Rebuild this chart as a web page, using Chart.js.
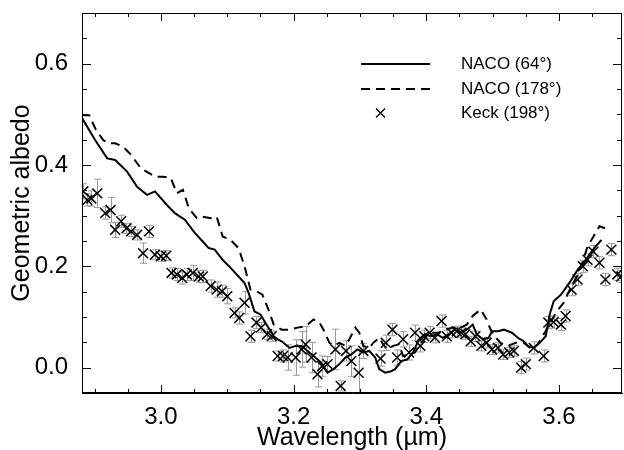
<!DOCTYPE html>
<html lang="en">
<head>
  <meta charset="UTF-8">
  <title>Geometric albedo spectrum</title>
  <script src="https://cdn.jsdelivr.net/npm/chart.js"></script>
  <style>
    body {
      margin: 0;
      padding: 0;
      background: #ffffff;
    }
    #wrap {
      width: 624px;
      height: 450px;
    }
  </style>
</head>
<body>
  <div id="wrap">
    <canvas id="albedoChart" width="624" height="450"></canvas>
  </div>

  <script>
    // NACO (64 deg) - solid line
    const naco64Wl = [2.880, 2.901, 2.919, 2.931, 2.949, 2.964, 2.979, 2.991, 3.009, 3.021, 3.036, 3.051, 3.063, 3.072, 3.081, 3.093, 3.105, 3.117, 3.126, 3.132, 3.141, 3.150, 3.159, 3.170, 3.176, 3.182, 3.194, 3.203, 3.212, 3.221, 3.230, 3.239, 3.245, 3.251, 3.260, 3.269, 3.278, 3.287, 3.296, 3.305, 3.314, 3.323, 3.329, 3.338, 3.347, 3.353, 3.362, 3.371, 3.380, 3.389, 3.398, 3.407, 3.416, 3.425, 3.434, 3.443, 3.452, 3.461, 3.470, 3.476, 3.485, 3.494, 3.499, 3.508, 3.517, 3.529, 3.538, 3.547, 3.553, 3.562, 3.571, 3.580, 3.586, 3.592, 3.603, 3.610, 3.619, 3.628, 3.637, 3.646, 3.655, 3.664];
    const naco64Alb = [0.495, 0.449, 0.413, 0.410, 0.387, 0.357, 0.341, 0.348, 0.321, 0.305, 0.292, 0.266, 0.249, 0.236, 0.233, 0.213, 0.197, 0.180, 0.167, 0.148, 0.111, 0.105, 0.085, 0.062, 0.056, 0.052, 0.039, 0.043, 0.043, 0.033, 0.023, 0.013, 0.003, -0.010, -0.003, 0.007, 0.020, 0.026, 0.036, 0.030, 0.033, 0.020, -0.003, -0.010, -0.007, -0.003, 0.013, 0.016, 0.030, 0.056, 0.066, 0.062, 0.066, 0.059, 0.066, 0.075, 0.069, 0.075, 0.085, 0.066, 0.056, 0.059, 0.072, 0.072, 0.075, 0.069, 0.059, 0.052, 0.043, 0.039, 0.049, 0.062, 0.105, 0.131, 0.144, 0.157, 0.174, 0.193, 0.207, 0.223, 0.239, 0.252];

    // NACO (178 deg) - dashed line
    const naco178Wl = [2.880, 2.892, 2.901, 2.913, 2.922, 2.931, 2.943, 2.955, 2.970, 2.982, 2.991, 3.003, 3.015, 3.024, 3.033, 3.042, 3.054, 3.063, 3.075, 3.084, 3.093, 3.105, 3.117, 3.126, 3.135, 3.144, 3.153, 3.162, 3.170, 3.182, 3.194, 3.206, 3.218, 3.230, 3.239, 3.245, 3.254, 3.260, 3.269, 3.278, 3.284, 3.293, 3.299, 3.305, 3.314, 3.320, 3.329, 3.335, 3.341, 3.350, 3.359, 3.365, 3.374, 3.383, 3.392, 3.401, 3.410, 3.419, 3.428, 3.440, 3.452, 3.461, 3.470, 3.482, 3.491, 3.497, 3.505, 3.514, 3.523, 3.535, 3.547, 3.559, 3.568, 3.577, 3.586, 3.595, 3.607, 3.619, 3.631, 3.643, 3.652, 3.661, 3.670];
    const naco178Alb = [0.498, 0.498, 0.472, 0.449, 0.443, 0.443, 0.436, 0.420, 0.393, 0.384, 0.377, 0.377, 0.374, 0.344, 0.351, 0.315, 0.295, 0.298, 0.295, 0.298, 0.259, 0.252, 0.236, 0.200, 0.154, 0.151, 0.144, 0.115, 0.085, 0.075, 0.075, 0.079, 0.082, 0.095, 0.089, 0.075, 0.049, 0.043, 0.049, 0.043, 0.056, 0.079, 0.069, 0.043, 0.039, 0.049, 0.059, 0.046, 0.036, 0.043, 0.046, 0.023, 0.026, 0.030, 0.049, 0.062, 0.069, 0.069, 0.075, 0.079, 0.079, 0.085, 0.102, 0.115, 0.095, 0.075, 0.059, 0.046, 0.043, 0.049, 0.049, 0.036, 0.046, 0.066, 0.085, 0.108, 0.128, 0.161, 0.190, 0.239, 0.259, 0.279, 0.275];

    // Keck (198 deg) - crosses with error bars
    const keckWl = [2.883, 2.889, 2.895, 2.904, 2.916, 2.924, 2.931, 2.940, 2.948, 2.955, 2.964, 2.973, 2.982, 2.991, 3.000, 3.008, 3.016, 3.024, 3.032, 3.039, 3.048, 3.057, 3.063, 3.075, 3.084, 3.092, 3.100, 3.111, 3.118, 3.126, 3.135, 3.144, 3.151, 3.160, 3.167, 3.176, 3.184, 3.191, 3.203, 3.212, 3.218, 3.227, 3.236, 3.243, 3.251, 3.263, 3.271, 3.279, 3.287, 3.298, 3.305, 3.331, 3.339, 3.349, 3.356, 3.365, 3.374, 3.383, 3.391, 3.397, 3.405, 3.413, 3.423, 3.431, 3.438, 3.446, 3.453, 3.459, 3.467, 3.474, 3.483, 3.491, 3.499, 3.508, 3.516, 3.525, 3.532, 3.543, 3.550, 3.562, 3.577, 3.584, 3.592, 3.603, 3.610, 3.619, 3.628, 3.636, 3.643, 3.652, 3.661, 3.670, 3.679, 3.688, 3.694];
    const keckAlb = [0.348, 0.331, 0.334, 0.344, 0.305, 0.311, 0.272, 0.289, 0.275, 0.269, 0.262, 0.226, 0.269, 0.223, 0.220, 0.221, 0.187, 0.184, 0.177, 0.184, 0.187, 0.180, 0.180, 0.161, 0.154, 0.151, 0.141, 0.108, 0.098, 0.128, 0.062, 0.089, 0.079, 0.066, 0.062, 0.023, 0.023, 0.020, 0.020, 0.036, 0.046, 0.020, -0.013, 0.003, 0.007, 0.036, -0.036, 0.033, 0.013, -0.010, 0.033, 0.018, 0.049, 0.075, 0.020, 0.056, 0.030, 0.069, 0.043, 0.062, 0.069, 0.059, 0.092, 0.062, 0.069, 0.072, 0.069, 0.066, 0.052, 0.062, 0.043, 0.049, 0.036, 0.039, 0.026, 0.030, 0.033, 0.000, 0.007, 0.039, 0.023, 0.089, 0.090, 0.085, 0.102, 0.154, 0.174, 0.200, 0.213, 0.229, 0.207, 0.174, 0.233, 0.184, 0.180];
    const keckErr = [0.015, 0.012, 0.015, 0.028, 0.012, 0.025, 0.015, 0.012, 0.010, 0.010, 0.010, 0.020, 0.012, 0.010, 0.010, 0.010, 0.010, 0.012, 0.012, 0.012, 0.015, 0.012, 0.012, 0.012, 0.015, 0.012, 0.015, 0.010, 0.012, 0.022, 0.012, 0.012, 0.010, 0.010, 0.010, 0.010, 0.012, 0.025, 0.035, 0.035, 0.035, 0.030, 0.025, 0.020, 0.015, 0.040, 0.010, 0.020, 0.030, 0.045, 0.015, 0.015, 0.015, 0.012, 0.015, 0.015, 0.015, 0.015, 0.012, 0.012, 0.012, 0.010, 0.012, 0.012, 0.010, 0.010, 0.010, 0.010, 0.010, 0.010, 0.010, 0.010, 0.010, 0.010, 0.010, 0.010, 0.010, 0.012, 0.012, 0.012, 0.012, 0.012, 0.012, 0.012, 0.012, 0.012, 0.012, 0.012, 0.012, 0.012, 0.012, 0.012, 0.012, 0.012, 0.012];

    const xTicks = [3.0, 3.2, 3.4, 3.6];
    const yTicks = [0.0, 0.2, 0.4, 0.6];
    const xMinorStep = 0.05;
    const yMinorStep = 0.05;

    const seriesLabels = ['NACO (64°)', 'NACO (178°)', 'Keck (198°)'];

    const FONT = "'Liberation Sans', Arial, Helvetica, sans-serif";

    function toPoints(xs, ys) {
      return xs.map((x, i) => ({ x: x, y: ys[i] }));
    }

    // gray error bars behind the crosses
    const errorBars = {
      id: 'errorBars',
      beforeDatasetsDraw(chart) {
        const { ctx, chartArea, scales } = chart;
        ctx.save();
        ctx.beginPath();
        ctx.rect(chartArea.left, chartArea.top, chartArea.width, chartArea.height);
        ctx.clip();
        ctx.strokeStyle = '#999999';
        ctx.lineWidth = 1;
        keckWl.forEach((w, i) => {
          const px = Math.round(scales.x.getPixelForValue(w)) + 0.5;
          const y0 = scales.y.getPixelForValue(keckAlb[i] - keckErr[i]);
          const y1 = scales.y.getPixelForValue(keckAlb[i] + keckErr[i]);
          ctx.beginPath();
          ctx.moveTo(px, y0); ctx.lineTo(px, y1);
          ctx.moveTo(px - 3.5, y0); ctx.lineTo(px + 3.5, y0);
          ctx.moveTo(px - 3.5, y1); ctx.lineTo(px + 3.5, y1);
          ctx.stroke();
        });
        ctx.restore();
      }
    };

    // box frame with inward ticks on all four sides, plus the legend
    const frame = {
      id: 'frame',
      afterDraw(chart) {
        const { ctx, chartArea: a, scales } = chart;
        const xs = scales.x, ys = scales.y;
        ctx.save();
        ctx.strokeStyle = '#000';
        ctx.lineWidth = 1;
        ctx.strokeRect(a.left + 0.5, a.top + 0.5, a.width - 1, a.height - 1);

        ctx.beginPath();
        for (let v = 2.9; v < xs.max; v += xMinorStep) {
          const major = xTicks.some(t => Math.abs(t - v) < 1e-6);
          const px = Math.round(xs.getPixelForValue(v)) + 0.5;
          const len = major ? 8 : 4;
          ctx.moveTo(px, a.bottom); ctx.lineTo(px, a.bottom - len);
          ctx.moveTo(px, a.top); ctx.lineTo(px, a.top + len);
        }
        for (let v = -0.05; v < ys.max; v += yMinorStep) {
          const major = yTicks.some(t => Math.abs(t - v) < 1e-6);
          const py = Math.round(ys.getPixelForValue(v)) + 0.5;
          const len = major ? 9 : 5;
          ctx.moveTo(a.left, py); ctx.lineTo(a.left + len, py);
          ctx.moveTo(a.right, py); ctx.lineTo(a.right - len, py);
        }
        ctx.stroke();

        // legend
        const ds = chart.data.datasets;
        const rows = [64, 89, 113];
        ctx.font = '17px ' + FONT;
        ctx.fillStyle = '#000';
        ctx.textBaseline = 'middle';
        rows.forEach((ry, i) => {
          const d = ds[i];
          ctx.strokeStyle = '#000';
          if (i < 2) {
            ctx.lineWidth = 2;
            ctx.setLineDash(d.borderDash || []);
            ctx.beginPath();
            ctx.moveTo(361, ry); ctx.lineTo(430, ry);
            ctx.stroke();
            ctx.setLineDash([]);
          } else {
            ctx.lineWidth = 1.3;
            ctx.beginPath();
            ctx.moveTo(376, ry - 4.5); ctx.lineTo(385, ry + 4.5);
            ctx.moveTo(385, ry - 4.5); ctx.lineTo(376, ry + 4.5);
            ctx.stroke();
          }
          ctx.fillText(d.label, 461, ry);
        });
        ctx.restore();
      }
    };

    const ctx = document.getElementById('albedoChart').getContext('2d');
    new Chart(ctx, {
      type: 'scatter',
      data: {
        datasets: [
          {
            label: seriesLabels[0],
            data: toPoints(naco64Wl, naco64Alb),
            showLine: true,
            borderColor: '#000',
            borderWidth: 2,
            pointRadius: 0,
            tension: 0
          },
          {
            label: seriesLabels[1],
            data: toPoints(naco178Wl, naco178Alb),
            showLine: true,
            borderColor: '#000',
            borderWidth: 2,
            borderDash: [9, 6],
            pointRadius: 0,
            tension: 0
          },
          {
            label: seriesLabels[2],
            data: toPoints(keckWl, keckAlb),
            showLine: false,
            pointStyle: 'crossRot',
            pointRadius: 7,
            borderColor: '#000',
            borderWidth: 1.5
          }
        ]
      },
      options: {
        responsive: false,
        animation: false,
        devicePixelRatio: 1,
        layout: { autoPadding: false, padding: { top: 13, right: 2, left: 0, bottom: 0 } },
        plugins: {
          legend: { display: false },
          tooltip: { enabled: false }
        },
        scales: {
          x: {
            type: 'linear',
            min: 2.881,
            max: 3.695,
            grid: { display: false, drawTicks: false },
            border: { color: '#000', width: 1 },
            afterBuildTicks: s => { s.ticks = xTicks.map(v => ({ value: v })); },
            afterFit: s => { s.height = 57; s.paddingLeft = 0; s.paddingRight = 0; },
            ticks: {
              color: '#000',
              padding: 10,
              font: { family: FONT, size: 24 },
              callback: v => Number(v).toFixed(1)
            },
            title: {
              display: true,
              text: 'Wavelength (µm)',
              color: '#000',
              padding: { top: 0, bottom: -3 },
              font: { family: FONT, size: 25 }
            }
          },
          y: {
            type: 'linear',
            min: -0.05,
            max: 0.70,
            grid: { display: false, drawTicks: false },
            border: { color: '#000', width: 1 },
            afterBuildTicks: s => { s.ticks = yTicks.map(v => ({ value: v })); },
            afterFit: s => { s.width = 82; s.paddingTop = 0; s.paddingBottom = 0; },
            ticks: {
              color: '#000',
              padding: 14,
              font: { family: FONT, size: 24 },
              callback: v => Number(v).toFixed(1)
            },
            title: {
              display: true,
              text: 'Geometric albedo',
              color: '#000',
              padding: { top: 7, bottom: 0 },
              font: { family: FONT, size: 25 }
            }
          }
        }
      },
      plugins: [errorBars, frame]
    });
  </script>
</body>
</html>
